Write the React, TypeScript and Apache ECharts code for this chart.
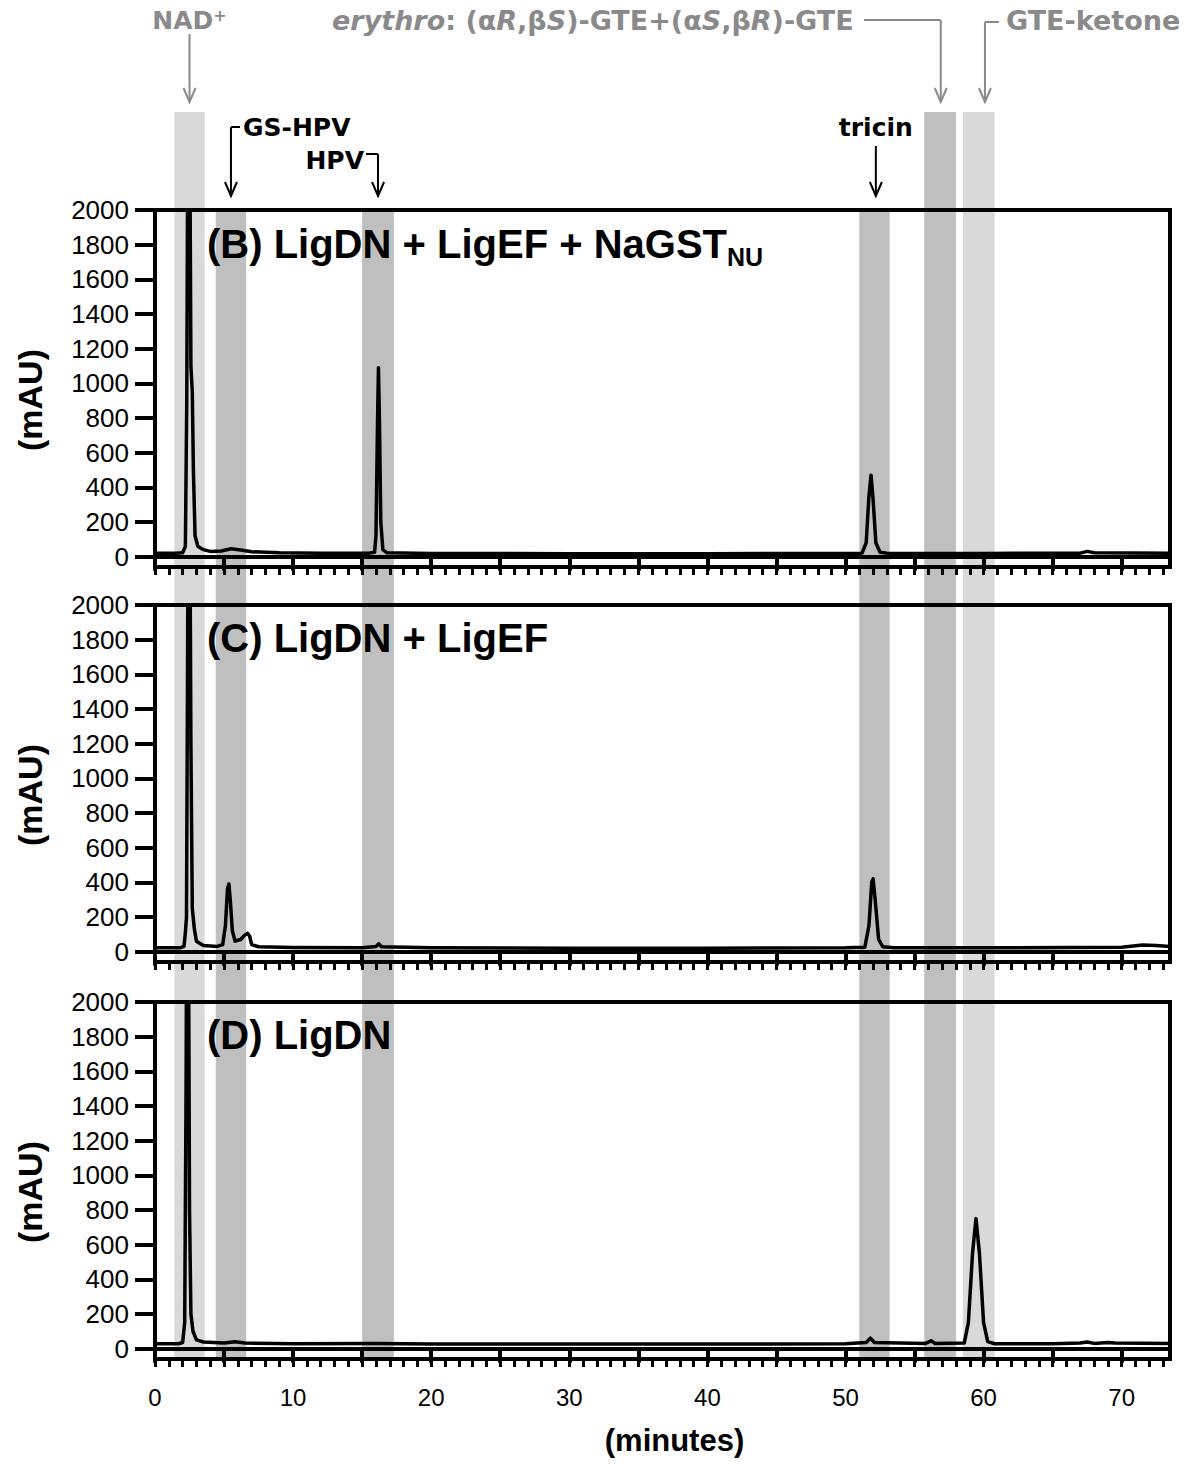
import React, { useEffect, useRef } from "react";
import * as echarts from "echarts";

// ---- data ----
const yTickValues = [0, 200, 400, 600, 800, 1000, 1200, 1400, 1600, 1800, 2000];
const xMajorTickValues = [0, 5, 10, 15, 20, 25, 30, 35, 40, 45, 50, 55, 60, 65, 70];
const xLabelValues = [0, 10, 20, 30, 40, 50, 60, 70];
const xMinorTickValues = Array.from({ length: 74 }, (_, i) => i);

// (minutes, mAU)
const traceB: [number, number][] = [
  [0, 20], [1.5, 20], [2.0, 22], [2.2, 60], [2.3, 900], [2.38, 2600], [2.45, 3200], [2.52, 2400],
  [2.6, 1100], [2.7, 950], [2.78, 500], [2.9, 120], [3.1, 60], [3.5, 40], [4.0, 30], [4.8, 32],
  [5.5, 45], [6.2, 38], [7.0, 28], [9, 22], [12, 20], [15.5, 20], [15.9, 25], [16.0, 120],
  [16.1, 700], [16.18, 1090], [16.25, 800], [16.35, 200], [16.5, 40], [16.8, 22], [20, 18],
  [30, 17], [40, 17], [50, 18], [51.2, 20], [51.5, 80], [51.7, 350], [51.85, 470], [52.0, 330],
  [52.2, 80], [52.5, 25], [53, 20], [60, 18], [67, 20], [67.5, 30], [68, 22], [73.5, 20],
];
const traceC: [number, number][] = [
  [0, 22], [1.8, 22], [2.1, 30], [2.2, 110], [2.28, 200], [2.35, 1500], [2.42, 3200], [2.5, 3000],
  [2.6, 1200], [2.7, 250], [2.85, 130], [3.0, 60], [3.5, 35], [4.5, 30], [4.9, 40], [5.1, 150],
  [5.25, 360], [5.35, 390], [5.45, 300], [5.6, 120], [5.8, 60], [6.2, 70], [6.5, 95], [6.7, 105],
  [6.85, 90], [7.0, 40], [7.5, 28], [10, 24], [15, 22], [16.0, 30], [16.2, 45], [16.4, 28],
  [20, 22], [30, 20], [40, 20], [50, 22], [51.4, 25], [51.7, 150], [51.9, 400], [52.0, 420],
  [52.15, 300], [52.4, 70], [52.7, 28], [53.5, 22], [60, 22], [70, 25], [71.5, 38], [72.5, 35],
  [73.5, 30],
];
const traceD: [number, number][] = [
  [0, 28], [1.7, 28], [2.0, 35], [2.15, 150], [2.25, 1500], [2.32, 3200], [2.4, 3000], [2.5, 800],
  [2.6, 200], [2.75, 100], [3.0, 50], [3.5, 38], [5.0, 32], [5.8, 40], [6.5, 32], [10, 28],
  [16, 30], [20, 27], [30, 26], [40, 26], [50, 28], [51.5, 35], [51.8, 60], [52.1, 35], [55.8, 30],
  [56.2, 45], [56.5, 30], [58.6, 32], [58.9, 150], [59.2, 550], [59.45, 750], [59.7, 550],
  [60.0, 150], [60.3, 40], [60.8, 28], [65, 28], [67.0, 32], [67.5, 38], [68, 30], [69, 35],
  [69.5, 33], [73.5, 30],
];

// shaded retention windows (minutes)
const bandNAD: [number, number] = [1.4, 3.6];
const bandGSHPV: [number, number] = [4.4, 6.6];
const bandHPV: [number, number] = [15.0, 17.3];
const bandTricin: [number, number] = [51.0, 53.2];
const bandErythro: [number, number] = [55.7, 58.0];
const bandKetone: [number, number] = [58.5, 60.8];

const panelTitles = ["(B) LigDN + LigEF + NaGST", "(C) LigDN + LigEF", "(D) LigDN"];
const panelSubs = ["NU", "", ""];

export default function App() {
  const ref = useRef<HTMLDivElement>(null);
  useEffect(() => {
    const chart = echarts.init(ref.current!, null, { renderer: "svg" });
    const tops = [210, 605, 1002];
    const H = 357;
    const L = 155;
    const W = 1015;
    const traces = [traceB, traceC, traceD];
    const grids = tops.map((t) => ({
      left: L, top: t, width: W, height: H, show: true,
      borderColor: "#000", borderWidth: 4, backgroundColor: "transparent",
    }));
    const xAxis: any[] = [];
    const yAxis: any[] = [];
    const series: any[] = [];
    tops.forEach((_, i) => {
      xAxis.push({
        type: "value", gridIndex: i, position: "bottom", min: 0, max: 73.5,
        axisLine: { show: true, lineStyle: { color: "#000", width: 4 } },
        axisTick: { show: true, customValues: xMajorTickValues, length: 14, lineStyle: { color: "#000", width: 4 } },
        axisLabel: {
          show: i === 2, customValues: xLabelValues, fontSize: 24, fontFamily: "Liberation Sans",
          color: "#000", margin: 26, formatter: (v: number) => String(v),
        },
        splitLine: { show: false },
      });
      xAxis.push({
        type: "value", gridIndex: i, position: "bottom", min: 0, max: 73.5,
        axisLine: { show: false },
        axisTick: { show: true, customValues: xMinorTickValues, length: 8, lineStyle: { color: "#000", width: 3 } },
        axisLabel: { show: false },
        splitLine: { show: false },
      });
      yAxis.push({
        type: "value", gridIndex: i, min: -60, max: 2000,
        axisLine: { show: true, lineStyle: { color: "#000", width: 4 } },
        axisTick: { show: true, customValues: yTickValues, length: 20, lineStyle: { color: "#000", width: 4 } },
        axisLabel: {
          customValues: yTickValues, fontSize: 26, fontFamily: "Liberation Sans", color: "#000", margin: 26,
          formatter: (v: number) => String(v),
        },
        splitLine: { show: false },
      });
      series.push({
        type: "line", xAxisIndex: i * 2, yAxisIndex: i, data: traces[i], showSymbol: false,
        symbol: "none", clip: true, lineStyle: { color: "#000", width: 3.5, join: "round" }, z: 3,
      });
    });

    chart.setOption({ animation: false, grid: grids, xAxis, yAxis, series });

    const px = (t: number) => chart.convertToPixel({ xAxisIndex: 0 }, t) as number;
    const gray = "#8a8a8a";
    const bottom = 1360;
    const light = "rgba(0,0,0,0.15)";
    const dark = "rgba(0,0,0,0.25)";
    const g: any[] = [];
    const band = (r: [number, number], top: number, fill: string) => {
      g.push({
        type: "rect", z: 50, silent: true,
        shape: { x: px(r[0]), y: top, width: px(r[1]) - px(r[0]), height: bottom - top },
        style: { fill },
      });
    };
    band(bandNAD, 112, light);
    band(bandGSHPV, 210, dark);
    band(bandHPV, 210, dark);
    band(bandTricin, 210, dark);
    band(bandErythro, 112, dark);
    band(bandKetone, 112, light);

    const seg = (x1: number, y1: number, x2: number, y2: number, color: string) => {
      g.push({ type: "line", z: 60, shape: { x1, y1, x2, y2 }, style: { stroke: color, lineWidth: 2 } });
    };
    const head = (x: number, y: number, color: string) => {
      g.push({
        type: "polyline", z: 60,
        shape: { points: [[x - 6, y - 14], [x, y], [x + 6, y - 14]] },
        style: { stroke: color, lineWidth: 2, fill: "none" },
      });
    };
    const blackFont = { fontFamily: "DejaVu Sans", fontSize: 25, fontWeight: "bold", fill: "#000" };

    // NAD+
    const xNAD = px((bandNAD[0] + bandNAD[1]) / 2);
    g.push({
      type: "text", z: 60, x: xNAD, y: 20,
      style: {
        text: "{a|NAD}{s|+}", align: "center", verticalAlign: "middle", fill: gray,
        rich: {
          a: { fontFamily: "DejaVu Sans", fontWeight: "bold", fontSize: 25, fill: gray },
          s: { fontFamily: "DejaVu Sans", fontWeight: "bold", fontSize: 16, fill: gray, verticalAlign: "top" },
        },
      },
    });
    seg(xNAD, 34, xNAD, 102, gray);
    head(xNAD, 102, gray);

    // erythro
    const xEry = px(56.9);
    g.push({
      type: "text", z: 60, x: 332, y: 20,
      style: {
        text: "{i|erythro}{n|: (α}{i|R}{n|,β}{i|S}{n|)-GTE+(α}{i|S}{n|,β}{i|R}{n|)-GTE}",
        align: "left", verticalAlign: "middle", fill: gray,
        rich: {
          i: { fontFamily: "DejaVu Sans", fontWeight: "bold", fontSize: 27, fontStyle: "italic", fill: gray },
          n: { fontFamily: "DejaVu Sans", fontWeight: "bold", fontSize: 27, fill: gray },
        },
      },
    });
    seg(864, 20, xEry, 20, gray);
    seg(xEry, 20, xEry, 102, gray);
    head(xEry, 102, gray);

    // GTE-ketone
    const xKet = px(60.1);
    g.push({
      type: "text", z: 60, x: 1006, y: 20,
      style: {
        text: "GTE-ketone", align: "left", verticalAlign: "middle",
        fontFamily: "DejaVu Sans", fontWeight: "bold", fontSize: 27, fill: gray,
      },
    });
    seg(xKet, 22, xKet, 102, gray);
    seg(xKet, 22, 999, 22, gray);
    head(xKet, 102, gray);

    // GS-HPV
    const xGS = px(5.5);
    g.push({
      type: "text", z: 60, x: 243, y: 127,
      style: { text: "GS-HPV", align: "left", verticalAlign: "middle", ...blackFont },
    });
    seg(xGS, 127, 240, 127, "#000");
    seg(xGS, 127, xGS, 196, "#000");
    head(xGS, 196, "#000");

    // HPV
    const xHPV = px(16.15);
    g.push({
      type: "text", z: 60, x: 364, y: 160,
      style: { text: "HPV", align: "right", verticalAlign: "middle", ...blackFont },
    });
    seg(366, 154, xHPV, 154, "#000");
    seg(xHPV, 154, xHPV, 196, "#000");
    head(xHPV, 196, "#000");

    // tricin
    const xTri = px(52.2);
    g.push({
      type: "text", z: 60, x: xTri, y: 127,
      style: { text: "tricin", align: "center", verticalAlign: "middle", ...blackFont },
    });
    seg(xTri, 146, xTri, 196, "#000");
    head(xTri, 196, "#000");

    // panel titles and y names
    const titleY = [244, 638, 1035];
    const nameY = [400, 795, 1192];
    titleY.forEach((ty, i) => {
      g.push({
        type: "text", z: 40, x: 207, y: ty,
        style: {
          text: panelSubs[i] ? `{t|${panelTitles[i]}}{s|${panelSubs[i]}}` : `{t|${panelTitles[i]}}`,
          align: "left", verticalAlign: "middle", fill: "#000",
          rich: {
            t: { fontFamily: "Liberation Sans", fontWeight: "bold", fontSize: 40, fill: "#000", lineHeight: 50 },
            s: { fontFamily: "Liberation Sans", fontWeight: "bold", fontSize: 25, fill: "#000", verticalAlign: "bottom", lineHeight: 50 },
          },
        },
      });
      g.push({
        type: "text", z: 40, x: 30, y: nameY[i], rotation: Math.PI / 2,
        style: {
          text: "(mAU)", align: "center", verticalAlign: "middle",
          fontFamily: "Liberation Sans", fontWeight: "bold", fontSize: 34, fill: "#000",
        },
      });
    });
    g.push({
      type: "text", z: 40, x: L + W / 2 + 12, y: 1440,
      style: {
        text: "(minutes)", align: "center", verticalAlign: "middle",
        fontFamily: "Liberation Sans", fontWeight: "bold", fontSize: 31, fill: "#000",
      },
    });

    chart.setOption({ graphic: g });
    return () => chart.dispose();
  }, []);
  return (
    <div
      ref={ref}
      style={{ position: "absolute", left: 0, top: 0, width: 1191, height: 1465, background: "#fff" }}
    />
  );
}
